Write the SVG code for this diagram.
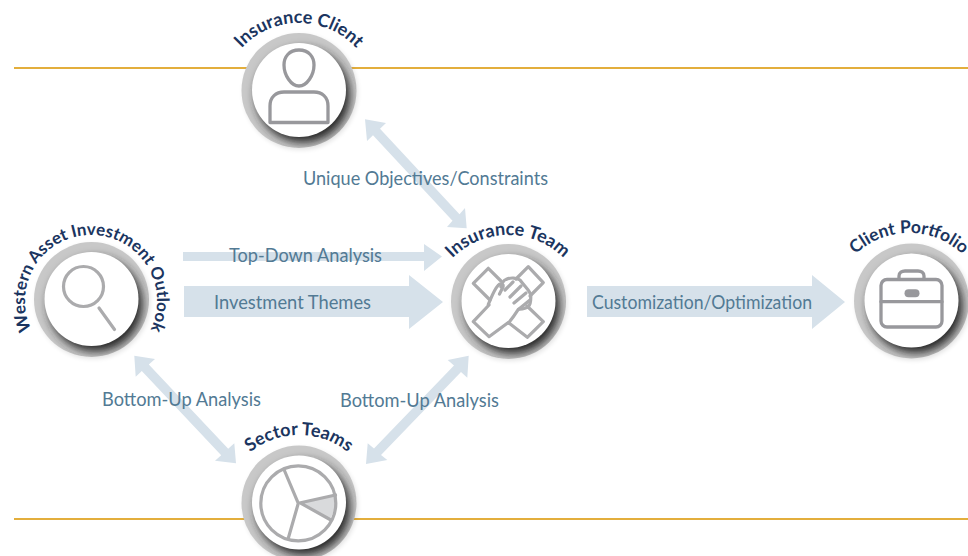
<svg xmlns="http://www.w3.org/2000/svg" width="968" height="556" viewBox="0 0 968 556">
<style>
.rule{stroke:#e3ae3c;stroke-width:2;fill:none}
.arrow{fill:#d6e1ea}
.label{font-family:"Lato","Noto Sans","Liberation Sans",sans-serif;font-size:18.500px;fill:#527a94}
.title{font-family:"Lato","Noto Sans","Liberation Sans",sans-serif;font-size:18px;font-weight:700;fill:#1b3560}
.icon{fill:none;stroke:#98989c;stroke-width:3.3;stroke-linejoin:round;stroke-linecap:round}
.icon2{fill:none;stroke:#ababad;stroke-width:3.2;stroke-linejoin:round;stroke-linecap:round}
</style>
<defs>
<clipPath id="ringClip"><circle r="57.500"/></clipPath>
<filter id="blurA" x="-50%" y="-50%" width="200%" height="200%"><feGaussianBlur stdDeviation="5"/></filter>
<filter id="blurB" x="-50%" y="-50%" width="200%" height="200%"><feGaussianBlur stdDeviation="2.500"/></filter>
<g id="disc">
<circle r="57" cx="1.500" cy="2" fill="#000" opacity=".12" filter="url(#blurB)"/>
<circle r="57.500" fill="#c8c8c8"/>
<g clip-path="url(#ringClip)"><circle r="47" cx="4" cy="5" fill="#262626" filter="url(#blurA)"/></g>
<circle r="47" cy="-0.500" fill="#fff"/>
</g>
</defs>
<g id="rules">
<line class="rule" x1="14" y1="68" x2="968" y2="68"/>
<line class="rule" x1="14" y1="519" x2="968" y2="519"/>
</g>
<g id="connectors">
<polygon class="arrow" points="365,119.300 386,123 380,128.700 459.500,214.200 465,208 466.700,228.300 447,227 452.500,220.800 373,135.300 367,141"/>
<polygon class="arrow" points="183,252 424,252 424,244 442,256.500 424,271 424,261 183,261"/>
<polygon class="arrow" points="184,286 409,286 409,275 443,302 409,329 409,317 184,317"/>
<polygon class="arrow" points="587,286 812,286 812,275 845,302 812,329 812,317 587,317"/>
<polygon class="arrow" points="134.300,355.700 155,359 148.800,364.500 228.200,448.700 234.300,443.300 236,463.300 215,460.700 221.200,455.300 141.800,371.100 135.700,376.700"/>
<polygon class="arrow" points="468.700,355.700 467.300,377.700 461,372.100 381,455 387.300,460 366,464 367.700,443.300 374,448.400 454,365.500 447.700,360"/>
<text class="label" x="303" y="185" textLength="245" lengthAdjust="spacingAndGlyphs">Unique Objectives/Constraints</text>
<text class="label" x="229" y="262" textLength="153" lengthAdjust="spacingAndGlyphs">Top-Down Analysis</text>
<text class="label" x="214" y="309" textLength="157" lengthAdjust="spacingAndGlyphs">Investment Themes</text>
<text class="label" x="592" y="309" textLength="220" lengthAdjust="spacingAndGlyphs">Customization/Optimization</text>
<text class="label" x="102" y="406" textLength="159" lengthAdjust="spacingAndGlyphs">Bottom-Up Analysis</text>
<text class="label" x="340" y="407" textLength="159" lengthAdjust="spacingAndGlyphs">Bottom-Up Analysis</text>
</g>
<g id="insurance-client">
<use href="#disc" transform="translate(299 90.500)"/>
<path class="icon" d="M299 50C289 50 284 57 284 65C284 75 291 86 299 86C307 86 314 75 314 65C314 57 309 50 299 50Z"/>
<path class="icon" d="M270 122.500V106C270 97 276 92 284 92H314C322 92 328 97 328 106V122.500Z"/>
<path id="arcClient" d="M299 179A78 78 0 1 1 299 23A78 78 0 1 1 299 179" fill="none"/>
<text class="title" text-anchor="middle"><textPath href="#arcClient" startOffset="50%">Insurance Client</textPath></text>
</g>
<g id="western-asset-investment-outlook">
<use href="#disc" transform="translate(91.500 299.500)"/>
<circle class="icon2" cx="83.500" cy="286.500" r="20"/>
<line class="icon2" x1="99" y1="308" x2="114.500" y2="329.500"/>
<path id="arcWestern" d="M91 367A66 66 0 1 1 91 235A66 66 0 1 1 91 367" fill="none"/>
<text class="title" text-anchor="middle" style="font-size:17px"><textPath href="#arcWestern" startOffset="50%">Western Asset Investment Outlook</textPath></text>
</g>
<g id="insurance-team">
<use href="#disc" transform="translate(508.500 301.500)"/>
<path class="icon2" d="M501 281L488.300 268.300L473.300 283.300L490 300"/>
<path class="icon2" d="M516 279L528.300 266.700L543.300 282.700L530 296"/>
<path class="icon2" d="M489 305L473.300 321.700L489 336.700L508.300 322.500L527.300 337.300L543.300 321.700L527 306"/>
<path class="icon2" d="M488.300 304.300C492 296 494 290 498 285.500C500 283 504 283 503 287L499.500 294M501 287C502 283 504 280 506 279.500C511 277 517 278 520 280C526 288 530 291 530.700 295C531 300 530 305 528.300 306.700C525 309 521 309 518.300 309.300C514 316 511 320 508.300 323.300"/>
<path class="icon2" d="M505 290L513 282M510 297L521 286M514 303L526 293M519 309L530 300"/>
<path id="arcTeam" d="M508 391A78 78 0 1 1 508 235A78 78 0 1 1 508 391" fill="none"/>
<text class="title" text-anchor="middle"><textPath href="#arcTeam" startOffset="50%">Insurance Team</textPath></text>
</g>
<g id="client-portfolio">
<use href="#disc" transform="translate(911.500 301)"/>
<rect class="icon" x="881" y="279.500" width="61" height="47.500" rx="6"/>
<line class="icon" x1="881" y1="301.700" x2="942" y2="301.700"/>
<path class="icon" d="M899 279V276C899 272.500 902 271 905 271H918C921 271 924 272.500 924 276V279"/>
<rect x="904.500" y="289.300" width="15" height="8" rx="4" fill="#98989c"/>
<path id="arcPortfolio" d="M909 389A78 78 0 1 1 909 233A78 78 0 1 1 909 389" fill="none"/>
<text class="title" text-anchor="middle" style="font-size:17.500px"><textPath href="#arcPortfolio" startOffset="50%">Client Portfolio</textPath></text>
</g>
<g id="sector-teams">
<use href="#disc" transform="translate(299 503)"/>
<path d="M301 503.300L335 496A37 37 0 0 1 330 519.300Z" fill="#d9dadc"/>
<circle class="icon2" cx="298.300" cy="503.300" r="37.500"/>
<path class="icon2" d="M284 469.500L298.300 503.300L288.500 537.500M298.300 503.300L335.500 495M301 503.300L330 519.500"/>
<path id="arcSector" d="M299 591A78 78 0 1 1 299 435A78 78 0 1 1 299 591" fill="none"/>
<text class="title" text-anchor="middle"><textPath href="#arcSector" startOffset="50%">Sector Teams</textPath></text>
</g>
</svg>
